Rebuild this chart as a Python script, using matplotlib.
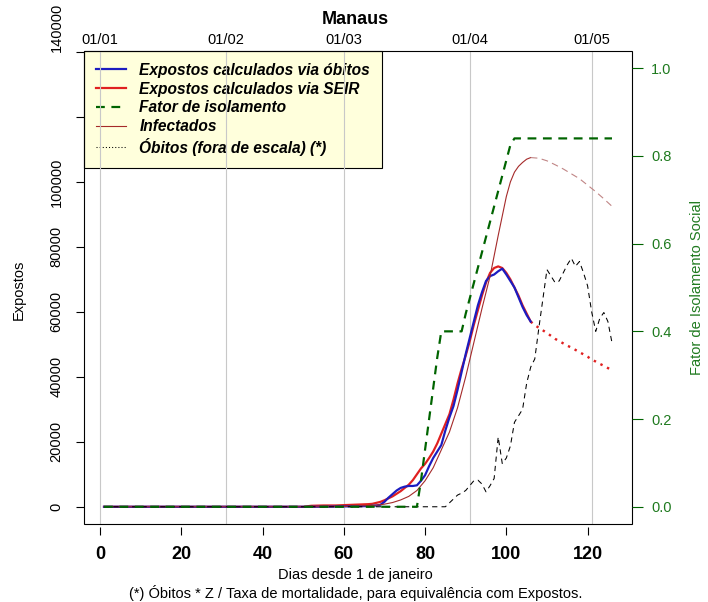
import matplotlib
matplotlib.use("Agg")
import matplotlib.pyplot as plt
from matplotlib.patches import Rectangle
from matplotlib.lines import Line2D

plt.rcParams['font.family'] = ['Liberation Sans', 'DejaVu Sans']

# Expostos calculados via obitos (azul)
dias_obitos = [1, 55, 60, 63, 66, 67, 68, 69, 70, 71, 72, 73, 74, 75, 76, 77, 78, 79, 80,
               81, 82, 83, 84, 85, 86, 87, 88, 89, 90, 91, 92, 93, 94, 95, 96, 97, 98, 99,
               100, 101, 102, 103, 104, 105, 106]
expostos_obitos = [0, 0, 100, 150, 200, 300, 400, 600, 1500, 2800, 3900, 5000, 5800, 6200,
                   6400, 6400, 6600, 8000, 9700, 12500, 15000, 17000, 19000, 23500, 27500,
                   31000, 36000, 41500, 47000, 52000, 57000, 62000, 66000, 69500, 71000,
                   71500, 72500, 73300, 71500, 69500, 67500, 64500, 61500, 59000, 57000]

# Expostos via SEIR (vermelho) + projecao pontilhada
dias_seir = [1, 50, 52, 55, 58, 60, 62, 64, 66, 67, 68, 69, 70, 71, 72, 73, 74, 75, 76, 77,
             78, 79, 80, 81, 82, 83, 84, 85, 86, 87, 88, 89, 90, 91, 92, 93, 94, 95, 96, 97,
             98, 99, 100, 101, 102, 103, 104, 105, 106]
expostos_seir = [0, 0, 300, 400, 400, 500, 600, 700, 800, 900, 1200, 1500, 2000, 2600, 3200,
                 4000, 4800, 5800, 6800, 8200, 10000, 11800, 13200, 15000, 17000, 19500,
                 22500, 25500, 28500, 33000, 38000, 42500, 46500, 51000, 56000, 60500, 65000,
                 69000, 72000, 73500, 74000, 73500, 72000, 70000, 67500, 65000, 62000, 59500,
                 57000]
dias_proj = [106, 107, 108, 109, 110, 111, 112, 113, 114, 115, 116, 117, 118, 119, 120,
             121, 122, 123, 124, 125, 126]
expostos_proj = [57000, 55900, 55100, 54300, 53500, 52600, 51700, 51000, 50300, 49600, 49000,
                 48300, 47600, 46900, 46200, 45300, 44700, 44000, 43400, 42700, 42000]

# Infectados (marrom), solido ate o pico e tracejado depois
dias_inf = [1, 55, 60, 65, 68, 70, 72, 74, 76, 78, 80, 82, 84, 86, 88, 90, 92, 94, 96, 98,
            100, 101, 102, 103, 104, 105, 106]
infectados = [0, 0, 100, 300, 500, 800, 1300, 2100, 3200, 5000, 8000, 12000, 17500, 23000,
              30500, 40000, 50500, 61000, 71000, 83500, 95500, 100000, 103000, 104800,
              106000, 107000, 107500]
dias_inf_proj = [106, 108, 110, 112, 114, 116, 118, 120, 122, 124, 126]
infectados_proj = [107500, 107300, 106500, 105300, 104000, 102500, 101000, 99000, 97000,
                   94800, 92500]

# Fator de isolamento (eixo direito)
dias_iso = [1, 78, 79, 80, 81, 82, 83, 84, 89, 90, 91, 92, 93, 94, 95, 96, 97, 98, 99, 100,
            101, 102, 126]
isolamento = [0, 0, 0.06, 0.13, 0.20, 0.27, 0.34, 0.40, 0.40, 0.44, 0.475, 0.51, 0.545, 0.58,
              0.615, 0.65, 0.685, 0.72, 0.755, 0.79, 0.825, 0.84, 0.84]

# Obitos (fora de escala)
dias_mortes = [1, 85, 86, 87, 88, 89, 90, 91, 92, 93, 94, 95, 96, 97, 98, 99, 100, 101, 102,
               103, 104, 105, 106, 107, 108, 109, 110, 111, 112, 113, 114, 115, 116, 117,
               118, 119, 120, 121, 122, 123, 124, 125, 126]
obitos = [0, 0, 1200, 2400, 3600, 4200, 5000, 6500, 8000, 8200, 7000, 4600, 6500, 8700,
          21500, 13300, 15000, 18700, 26000, 28000, 30000, 38000, 43000, 45500, 55000, 64000,
          73000, 71000, 69000, 69500, 72000, 74500, 76500, 74000, 75500, 72000, 68000, 60000,
          54000, 58000, 59800, 57000, 50500]

datas_dias = [0, 31, 60, 91, 121]
datas_rotulos = ['01/01', '01/02', '01/03', '01/04', '01/05']
x_ticks = [0, 20, 40, 60, 80, 100, 120]
y_ticks = [0, 20000, 40000, 60000, 80000, 100000, 120000, 140000]
y_rotulos = ['0', '20000', '40000', '60000', '80000', '100000', '', '140000']
iso_ticks = [0.0, 0.2, 0.4, 0.6, 0.8, 1.0]

BLUE = '#1c1cc0'
RED = '#e02020'
GREEN = '#006400'
BROWN = '#a52a2a'
W, H = 708, 602
PX = 0.72  # points per pixel at dpi 100

fig = plt.figure(figsize=(W / 100, H / 100), dpi=100)
ax = fig.add_axes([83.7 / W, 1 - 524.3 / H, (632.3 - 83.7) / W, (524.3 - 50.7) / H])

for d in datas_dias:
    ax.axvline(d, color='#c8c8c8', lw=0.8, zorder=1.6)

ax.plot(dias_seir, expostos_seir, color=RED, lw=2 * PX * 1.1, zorder=2)
ax.plot(dias_obitos, expostos_obitos, color=BLUE, lw=2 * PX * 1.1, zorder=2.1)
ax.plot(dias_proj, expostos_proj, color=RED, lw=2.4 * PX, ls=(0, (1, 2.1)), zorder=2)
ax.plot(dias_inf, infectados, color=BROWN, lw=0.8, zorder=2.2)
ax.plot(dias_inf_proj, infectados_proj, color='#c08585', lw=0.8, ls=(0, (6, 4)), zorder=2.2)
ax.plot(dias_mortes, obitos, color='black', lw=0.75, ls=(0, (5, 4)), zorder=2.3)

ax.set_xlim(-4, 131)
ax.set_ylim(-5400, 140400)
for s in ax.spines.values():
    s.set_visible(False)
ax.spines['bottom'].set_position(('outward', 3 * PX))
ax.add_patch(Rectangle((0, 0), 1, 1, transform=ax.transAxes, fill=False,
                       edgecolor='black', lw=0.8, clip_on=False, zorder=3))

ax.set_xticks(x_ticks, [str(t) for t in x_ticks], fontweight='bold', fontsize=13)
ax.tick_params(axis='x', length=8 * PX, width=0.8, pad=11 * PX)
ax.set_yticks(y_ticks, y_rotulos, rotation=90, va='center', fontsize=10.5)
ax.tick_params(axis='y', length=8 * PX, width=0.8, pad=12 * PX)
# o rotulo do topo fica acima do tique, como no original
ax.get_yticklabels()[-1].set_va('bottom')

top = ax.secondary_xaxis('top')
top.set_xticks(datas_dias, datas_rotulos, fontsize=10.5)
top.tick_params(length=0, pad=3)
top.spines['top'].set_visible(False)

ax2 = ax.twinx()
ax2.plot(dias_iso, isolamento, color=GREEN, lw=2.2 * PX, ls=(0, (4, 3)))
ax2.set_ylim(-0.04, 1.04)
for s in ax2.spines.values():
    s.set_visible(False)
ax2.set_yticks(iso_ticks, ['%.1f' % v for v in iso_ticks], fontsize=10.5, color='#1f7a1f')
ax2.tick_params(axis='y', length=11 * PX, width=0.8, pad=8 * PX, color=GREEN)

handles = [
    Line2D([], [], color=BLUE, lw=2 * PX * 1.1),
    Line2D([], [], color=RED, lw=2 * PX * 1.1),
    Line2D([], [], color=GREEN, lw=2.2 * PX, ls=(0, (4, 3))),
    Line2D([], [], color=BROWN, lw=0.8),
    Line2D([], [], color='black', lw=0.75, ls=(0, (1, 2))),
]
labels = ['Expostos calculados via óbitos', 'Expostos calculados via SEIR',
          'Fator de isolamento', 'Infectados', 'Óbitos (fora de escala) (*)']
leg = ax.legend(handles, labels, loc='upper left', bbox_to_anchor=(0, 1), borderaxespad=0,
                prop={'weight': 'bold', 'style': 'italic', 'size': 11.2},
                fancybox=False, framealpha=1, facecolor='#ffffdc', edgecolor='black',
                handlelength=1.95, handletextpad=0.85, borderpad=0.78, labelspacing=0.24)
leg.get_frame().set_linewidth(0.8)
leg.set_zorder(1.5)

fig.text(355.5 / W, 1 - 20 / H, 'Manaus', ha='center', va='center', fontsize=13,
         fontweight='bold')
fig.text(19 / W, 1 - 290 / H, 'Expostos', rotation=90, ha='center', va='center',
         fontsize=10.5)
fig.text(697 / W, 1 - 287.5 / H, 'Fator de Isolamento Social', rotation=90, ha='center',
         va='center', fontsize=10.5, color='#1f7a1f')
fig.text(355.5 / W, 1 - 575 / H, 'Dias desde 1 de janeiro', ha='center', va='center',
         fontsize=10.5)
fig.text(355.5 / W, 1 - 593 / H,
         '(*) Óbitos * Z / Taxa de mortalidade, para equivalência com Expostos.',
         ha='center', va='center', fontsize=10.5)

fig.savefig('out.png', dpi=100)
